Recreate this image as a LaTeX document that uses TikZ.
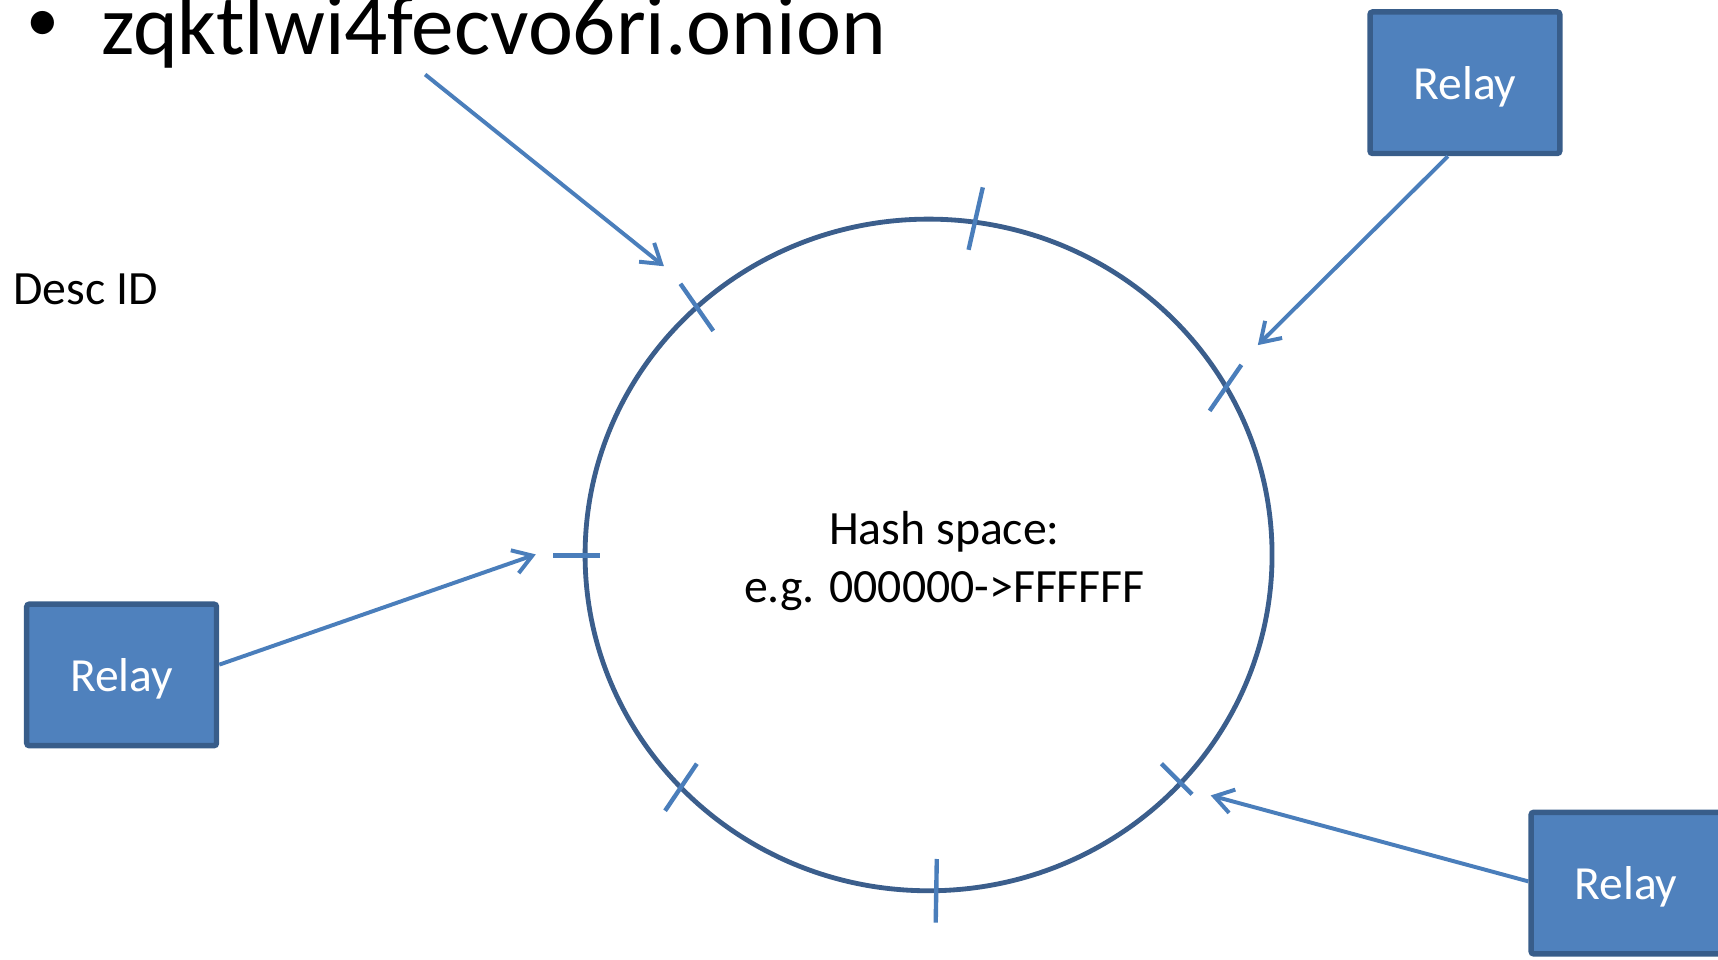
\documentclass[tikz,border=0pt]{standalone}
\usepackage{fontspec}
\setmainfont{Carlito}
\usetikzlibrary{arrows.meta}
\definecolor{relayfill}{HTML}{4F81BD}
\definecolor{relayedge}{HTML}{385D8A}
\definecolor{linkblue}{HTML}{4A7EBB}
\definecolor{ringblue}{HTML}{3B5E8C}
\begin{document}
\begin{tikzpicture}[x=0.5pt,y=-0.5pt,
  relay/.style={draw=relayedge, fill=relayfill, line width=2.5pt,
    rounded corners=1.2pt, minimum width=86.6pt, minimum height=64.6pt,
    inner sep=0pt, text=white, font=\fontsize{21.7}{25}\selectfont,
    text height=15pt, text depth=0pt},
  link/.style={draw=linkblue, line width=1.8pt,
    -{Straight Barb[length=8.5pt,width=11pt]}},
  tickmark/.style={draw=linkblue, line width=2pt},
  ring/.style={draw=ringblue, line width=2.2pt},
  txt/.style={font=\fontsize{21.8}{25}\selectfont, inner sep=0pt},
  bigtxt/.style={font=\fontsize{38.9}{46}\selectfont, inner sep=0pt}]
\clip (0,0) rectangle (1568,876);

% onion address heading
\node[font=\fontsize{30}{36}\selectfont, inner sep=0pt] (bullet) at (39,24) {•};
\node[bigtxt, anchor=base west] (onion) at (92,50) {zqktlwi4fecvo6ri.onion};
\node[txt, anchor=base west] (desc) at (12,278) {Desc ID};

% hash ring
\draw[ring] (847.5,506.5) ellipse [x radius=313.5, y radius=306.5];
\node[txt, anchor=base] (hash1) at (862,497) {Hash space:};
\node[txt, anchor=base] (hash2) at (862,550) {e.g. 000000->FFFFFF};

% positions on the ring
\draw[tickmark] (897,171) -- (884,228);
\draw[tickmark] (621,259) -- (651,302);
\draw[tickmark] (1133,333) -- (1104,375);
\draw[tickmark] (505,507) -- (548,507);
\draw[tickmark] (636,697) -- (607,740);
\draw[tickmark] (855,784) -- (854,842);
\draw[tickmark] (1060,697) -- (1088,725);

% relays
\node[relay] (rtop) at (1337,75.5) {Relay};
\node[relay] (rleft) at (111,616) {Relay};
\node[relay] (rright) at (1484,806) {Relay};

% mapping arrows
\coordinate (idsrc) at (388,68);
\coordinate (idhit) at (606,243);
\coordinate (tophit) at (1148,315);
\coordinate (lefthit) at (489,506);
\coordinate (righthit) at (1105,726);

\draw[link] (idsrc) -- (idhit);
\draw[link] (rtop.257) -- (tophit);
\draw[link] (rleft.6) -- (lefthit);
\draw[link] (rright.179) -- (righthit);
\end{tikzpicture}
\end{document}
